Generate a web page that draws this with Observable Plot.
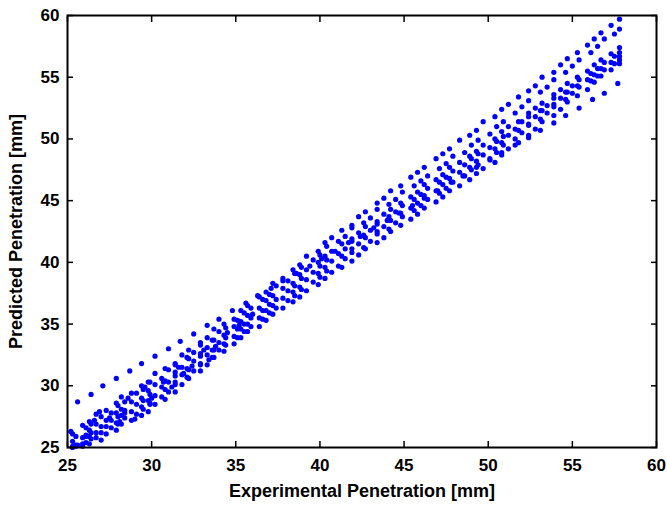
<!DOCTYPE html>
<html>
<head>
<meta charset="utf-8">
<script src="https://cdn.jsdelivr.net/npm/d3@7"></script>
<script src="https://cdn.jsdelivr.net/npm/@observablehq/plot@0.6"></script>
<style>
  html, body { margin: 0; padding: 0; background: #fff; }
</style>
</head>
<body>
<div id="chart"></div>
<script>
// Tick values
const xTicks = [25, 30, 35, 40, 45, 50, 55, 60];
const yTicks = [25, 30, 35, 40, 45, 50, 55, 60];
const xTitle = "Experimental Penetration [mm]";
const yTitle = "Predicted Penetration [mm]";

// Experimental penetration (mm) for each row of points
const xGridA = [25.3, 25.9, 26.3, 26.7, 27.3, 27.9, 28.2, 28.8, 29.4, 29.8, 30.2, 30.8, 31.4, 31.8, 32.2, 32.9, 33.3, 33.7, 34.3, 34.9, 35.3, 35.7, 36.4, 36.8, 37.2, 37.8, 38.4, 38.8, 39.2, 39.9, 40.3, 40.7, 41.3, 41.9, 42.3, 42.7, 43.4, 43.8, 44.2, 44.8, 45.4, 45.8, 46.2, 46.9, 47.3, 47.7, 48.3, 48.9, 49.3, 49.7, 50.4, 50.8, 51.2, 51.8, 52.4, 52.8, 53.2, 53.9, 54.3, 54.7, 55.3, 55.9, 56.3, 56.7, 57.3, 57.8];
const xGridB = [25.5, 26.1, 26.4, 27.0, 27.6, 28.0, 28.4, 29.1, 29.5, 29.9, 30.6, 31.0, 31.4, 32.1, 32.5, 32.9, 33.6, 34.0, 34.4, 35.1, 35.5, 35.9, 36.6, 37.0, 37.4, 38.1, 38.5, 38.9, 39.6, 40.0, 40.4, 41.1, 41.5, 41.9, 42.6, 43.0, 43.4, 44.1, 44.5, 44.9, 45.6, 46.0, 46.4, 47.1, 47.5, 47.9, 48.6, 49.0, 49.4, 50.1, 50.5, 50.9, 51.6, 52.0, 52.4, 53.1, 53.5, 53.9, 54.6, 55.0, 55.4, 56.1, 56.5, 56.9, 57.5, 57.8];
const xLine8 = [25.6, 26.4, 27.1, 27.9, 28.7, 29.4, 30.2, 31.0, 31.7, 32.5, 33.3, 34.0, 34.8, 35.6, 36.3, 37.1, 37.8, 38.6, 39.4, 40.1, 40.9, 41.7, 42.4, 43.2, 44.0, 44.7, 45.5, 46.2, 47.0, 47.8, 48.5, 49.3, 50.1, 50.8, 51.6, 52.4, 53.1, 53.9, 54.6, 55.4, 56.2, 56.9, 57.7];
const xCloud = [25.2, 25.6, 26.1, 26.6, 27.0, 27.5, 28.1, 28.6, 29.0, 29.6, 30.0, 30.7, 31.2, 31.9, 32.4, 33.1, 33.8, 34.5, 35.2, 36.0, 26.9, 28.4, 29.9, 31.6, 33.4];

// Predicted penetration (mm), one list per row of points
const line1 = [26.1, 26.8, 27.1, 27.7, 28.0, 28.6, 29.1, 29.4, 30.0, 30.3, 31.0, 31.4, 31.8, 32.5, 32.9, 33.5, 33.9, 34.6, 35.0, 35.4, 36.1, 36.5, 37.2, 37.6, 38.3, 38.7, 39.4, 39.8, 40.5, 40.9, 41.6, 42.0, 42.6, 43.0, 43.7, 44.1, 44.8, 45.2, 45.8, 46.2, 46.9, 47.3, 47.7, 48.4, 48.8, 49.2, 49.9, 50.3, 50.7, 51.4, 51.8, 52.4, 52.8, 53.4, 53.9, 54.3, 55.0, 55.4, 56.0, 56.5, 57.0, 57.6, 58.1, 58.6, 59.2, 59.7];
const line2 = [25.9, 26.6, 26.9, 27.5, 27.8, 28.4, 28.7, 29.4, 29.7, 30.3, 30.6, 31.3, 31.7, 32.3, 32.7, 33.3, 33.7, 34.4, 34.7, 35.3, 35.9, 36.3, 37.0, 37.4, 38.1, 38.5, 39.1, 39.6, 40.2, 40.6, 41.3, 41.7, 42.1, 42.8, 43.2, 43.6, 44.3, 44.7, 45.1, 45.7, 46.2, 46.6, 47.0, 47.6, 48.0, 48.6, 48.9, 49.5, 49.9, 50.4, 51.0, 51.4, 52.1, 52.6, 53.1, 53.8, 54.2, 54.8, 55.4, 55.9, 56.4, 57.0, 57.5, 58.1, 58.5, 58.9];
const line3 = [25.5, 25.8, 26.4, 26.9, 27.2, 27.8, 28.1, 28.7, 29.0, 29.6, 30.1, 30.4, 31.1, 31.5, 32.2, 32.6, 33.1, 33.7, 34.1, 34.8, 35.2, 35.7, 36.3, 36.9, 37.3, 37.9, 38.3, 39.0, 39.4, 40.0, 40.5, 40.9, 41.5, 41.9, 42.4, 42.9, 43.3, 43.9, 44.3, 44.8, 45.3, 45.7, 46.3, 46.7, 47.1, 47.7, 48.1, 48.6, 49.0, 49.5, 50.0, 50.6, 51.0, 51.4, 52.1, 52.5, 52.9, 53.6, 54.0, 54.5, 55.0, 55.5, 56.0, 56.4, 56.9, 57.4];
const line4 = [25.2, 25.9, 26.2, 26.7, 27.2, 27.5, 28.0, 28.5, 28.8, 29.3, 29.9, 30.3, 30.8, 31.4, 32.0, 32.4, 32.9, 33.5, 33.9, 34.6, 35.0, 35.5, 36.1, 36.6, 37.0, 37.7, 38.1, 38.7, 39.2, 39.7, 40.2, 40.7, 41.1, 41.7, 42.2, 42.6, 43.1, 43.7, 44.1, 44.6, 45.1, 45.5, 46.0, 46.5, 46.9, 47.4, 47.9, 48.4, 48.8, 49.3, 49.8, 50.2, 50.8, 51.4, 51.8, 52.3, 52.7, 53.3, 53.8, 54.3, 54.8, 55.3, 55.7, 56.2, 56.7, 57.0];
const line5 = [25.0, 25.3, 25.9, 26.2, 26.7, 27.0, 27.6, 27.9, 28.3, 28.8, 29.2, 29.7, 30.3, 30.9, 31.3, 31.8, 32.5, 32.9, 33.4, 34.0, 34.6, 35.0, 35.5, 36.1, 36.5, 37.1, 37.6, 38.0, 38.6, 39.1, 39.6, 40.1, 40.5, 41.1, 41.5, 42.0, 42.5, 42.9, 43.4, 44.0, 44.4, 44.8, 45.4, 45.8, 46.3, 46.8, 47.3, 47.7, 48.2, 48.7, 49.2, 49.7, 50.3, 50.7, 51.2, 51.8, 52.3, 52.8, 53.3, 53.8, 54.3, 54.8, 55.2, 55.7, 56.2, 56.7];
const line6 = [25.1, 25.4, 25.7, 26.2, 26.6, 26.9, 27.4, 27.7, 28.1, 28.5, 29.1, 29.5, 30.1, 30.7, 31.2, 31.7, 32.3, 32.9, 33.3, 33.9, 34.4, 34.8, 35.4, 35.9, 36.3, 36.9, 37.3, 37.8, 38.4, 38.8, 39.3, 39.7, 40.3, 40.8, 41.2, 41.7, 42.3, 42.7, 43.2, 43.7, 44.2, 44.6, 45.1, 45.6, 46.0, 46.5, 47.0, 47.5, 47.9, 48.4, 48.9, 49.5, 50.0, 50.5, 51.1, 51.6, 52.1, 52.6, 53.2, 53.7, 54.2, 54.7, 55.1, 55.6, 56.1, 56.4];
const line7 = [25.1, 25.1, 25.3, 25.8, 26.1, 26.4, 26.9, 27.2, 27.6, 27.9, 28.5, 28.9, 29.5, 30.1, 30.6, 31.2, 31.7, 32.3, 32.8, 33.4, 33.9, 34.4, 34.8, 35.3, 35.8, 36.3, 36.8, 37.2, 37.7, 38.2, 38.7, 39.2, 39.6, 40.1, 40.6, 41.1, 41.6, 42.0, 42.5, 43.0, 43.5, 43.9, 44.4, 44.9, 45.3, 45.8, 46.2, 46.7, 47.2, 47.6, 48.1, 48.7, 49.2, 49.7, 50.3, 50.8, 51.4, 51.9, 52.4, 53.0, 53.5, 54.0, 54.6, 55.1, 55.6, 56.1];
const line8 = [28.7, 29.3, 30.0, 30.6, 31.2, 31.8, 32.4, 33.0, 33.6, 34.2, 34.9, 35.4, 36.1, 36.7, 37.3, 37.9, 38.5, 39.1, 39.7, 40.3, 40.9, 41.6, 42.1, 42.8, 43.4, 44.0, 44.6, 45.2, 45.8, 46.5, 47.0, 47.7, 48.3, 48.9, 49.5, 50.1, 50.7, 51.3, 51.9, 52.5, 53.2, 53.7, 54.5];
const cloud = [26.3, 25.2, 26.0, 27.2, 25.6, 27.4, 27.1, 29.0, 27.3, 29.9, 29.0, 30.3, 29.9, 31.0, 31.6, 32.9, 33.2, 34.3, 34.9, 35.8, 27.9, 27.8, 28.6, 31.5, 32.1];

const series = [
  [xGridA, line1], [xGridB, line2], [xGridA, line3], [xGridB, line4],
  [xGridA, line5], [xGridB, line6], [xGridA, line7], [xLine8, line8],
  [xCloud, cloud]
];
const points = series.flatMap(([xs, ys]) => ys.map((y, i) => ({x: xs[i], y})));

const noText = () => "";

const chart = Plot.plot({
  width: 667,
  height: 510,
  marginLeft: 67,
  marginRight: 11,
  marginTop: 15,
  marginBottom: 63,
  style: {
    background: "#fff",
    color: "#000",
    fontFamily: "'Liberation Sans', Arial, Helvetica, sans-serif",
    fontSize: "17px",
    fontWeight: "bold"
  },
  x: {domain: [25, 60]},
  y: {domain: [25, 60]},
  marks: [
    Plot.dot(points, {x: "x", y: "y", r: 2.6, fill: "#0000ff"}),
    Plot.frame({stroke: "#000", strokeWidth: 2}),
    Plot.axisX({anchor: "bottom", ticks: xTicks, tickSize: -6, tickPadding: 17, strokeWidth: 1.5, label: null}),
    Plot.axisX({anchor: "top", ticks: xTicks, tickSize: -6, strokeWidth: 1.5, tickFormat: noText, label: null}),
    Plot.axisY({anchor: "left", ticks: yTicks, tickSize: -6, tickPadding: 14, strokeWidth: 1.5, label: null}),
    Plot.axisY({anchor: "right", ticks: yTicks, tickSize: -6, strokeWidth: 1.5, tickFormat: noText, label: null}),
    Plot.text([xTitle], {frameAnchor: "bottom", dy: 49, text: d => d, fontSize: 18, fontWeight: "bold"}),
    Plot.text([yTitle], {frameAnchor: "left", dx: -51, rotate: -90, textAnchor: "middle", text: d => d, fontSize: 18, fontWeight: "bold"})
  ]
});
document.getElementById("chart").appendChild(chart);
</script>
</body>
</html>
